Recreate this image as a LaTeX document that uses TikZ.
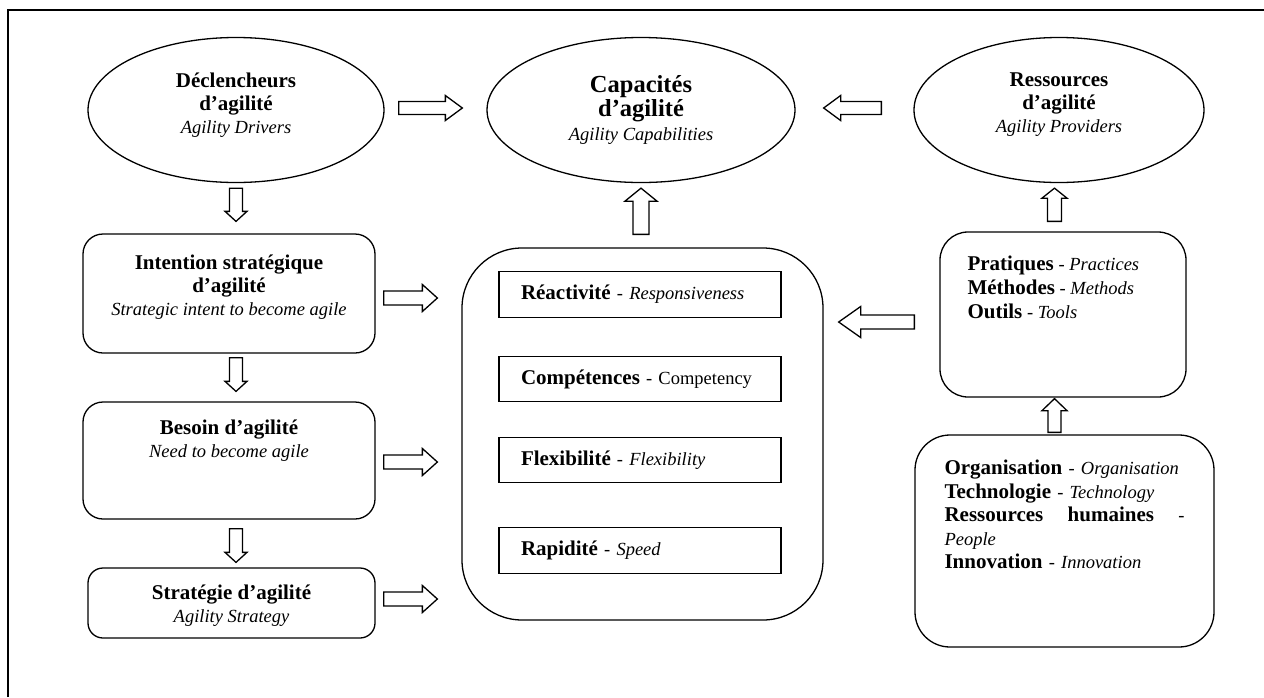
\documentclass[tikz,border=0pt]{standalone}
\usepackage{fontspec}
\setmainfont{Liberation Serif}
\usetikzlibrary{shapes.geometric, calc}
\setlength{\parindent}{0pt}

\newcommand{\fr}[1]{{\fontsize{21}{23}\selectfont\bfseries #1}}
\newcommand{\en}[1]{\textit{#1}}

\begin{document}
\begin{tikzpicture}[x=1pt, y=-1pt,
    every node/.style={font=\fontsize{18.5}{23}\selectfont},
    oval/.style={draw, ellipse, line width=1.3pt, inner sep=0pt, align=center},
    rbox/.style={draw, rounded corners=20pt, line width=1.3pt},
    cbox/.style={draw, line width=1.4pt, minimum width=282pt, minimum height=45.5pt,
        text width=238pt, inner xsep=22pt, inner ysep=0pt, align=left},
    txt/.style={inner sep=0pt, align=center},
    fat/.style args={#1/#2/#3}{fill=white, line width=1.3pt, to path={
        ($(\tikztostart)!#1!90:(\tikztotarget)$)
        -- ($(\tikztotarget)!#3!(\tikztostart)!#1!90:(\tikztotarget)$)
        -- ($(\tikztotarget)!#3!(\tikztostart)!#2!90:(\tikztotarget)$)
        -- (\tikztotarget)
        -- ($(\tikztotarget)!#3!(\tikztostart)!#2!-90:(\tikztotarget)$)
        -- ($(\tikztotarget)!#3!(\tikztostart)!#1!-90:(\tikztotarget)$)
        -- ($(\tikztostart)!#1!-90:(\tikztotarget)$) -- cycle}}
]
        \useasboundingbox (0,0) rectangle (1264,697);

        % Cadre
        \draw[line width=2pt] (8,697) -- (8,9.5) -- (1264,9.5);

        % Ellipses du haut
        \node[oval, minimum width=296pt, minimum height=145pt, text depth=14pt] (drv) at (236,110)
            {\fr{Déclencheurs}\\\fr{d’agilité}\\\en{Agility Drivers}};
        \node[oval, minimum width=308pt, minimum height=145pt, font=\fontsize{18.5}{24}\selectfont] (cap) at (641,110)
            {{\fontsize{24.5}{24}\selectfont\bfseries Capacités}\\{\fontsize{24.5}{24}\selectfont\bfseries d’agilité}\\\en{Agility Capabilities}};
        \node[oval, minimum width=290pt, minimum height=145pt, text depth=14pt] (prov) at (1059,110)
            {\fr{Ressources}\\\fr{d’agilité}\\\en{Agility Providers}};

        % Colonne de gauche
        \node[rbox, minimum width=292pt, minimum height=119pt] (intent) at (229,293.5) {};
        \node[txt, anchor=north] (intenttxt) at ([yshift=-21pt]intent.north)
            {\fr{Intention stratégique}\\\fr{d’agilité}\\\en{Strategic intent to become agile}};
        \node[rbox, minimum width=292pt, minimum height=117pt] (need) at (229,460.5) {};
        \node[txt, anchor=north] (needtxt) at ([yshift=-18pt]need.north)
            {\fr{Besoin d’agilité}\\\en{Need to become agile}};
        \node[rbox, rounded corners=15pt, minimum width=287pt, minimum height=70pt] (strat) at (231.5,603) {};
        \node[txt, anchor=north] (strattxt) at ([yshift=-17pt]strat.north)
            {\fr{Stratégie d’agilité}\\\en{Agility Strategy}};

        % Capacites
        \node[rbox, rounded corners=60pt, minimum width=361pt, minimum height=372pt] (capbox) at (642.5,434) {};
        \node[cbox] (resp) at (640,294.5) {\fr{Réactivité} - \en{Responsiveness}};
        \node[cbox] (comp) at (640,379) {\fr{Compétences} - Competency};
        \node[cbox] (flex) at (640,460) {\fr{Flexibilité} - \en{Flexibility}};
        \node[cbox] (speed) at (640,550.5) {\fr{Rapidité} - \en{Speed}};

        % Colonne de droite
        \node[rbox, rounded corners=28pt, minimum width=246pt, minimum height=165pt] (prac) at (1063,314.5) {};
        \node[txt, anchor=north west, align=left, font=\fontsize{18.5}{24}\selectfont] (practxt)
            at ([xshift=28pt,yshift=-24pt]prac.north west)
            {\fr{Pratiques} - \en{Practices}\\\fr{Méthodes} - \en{Methods}\\\fr{Outils} - \en{Tools}};
        \node[rbox, rounded corners=35pt, minimum width=299pt, minimum height=212pt] (org) at (1064.5,541) {};
        \node[txt, anchor=north west, text width=240pt, align=left, font=\fontsize{18.5}{23.5}\selectfont] (orgtxt)
            at ([xshift=30pt,yshift=-25.5pt]org.north west)
            {\fr{Organisation} - \en{Organisation}\\\fr{Technologie} - \en{Technology}\\
             \fr{Ressources}\hfill\fr{humaines}\hfill-\\\en{People}\\\fr{Innovation} - \en{Innovation}};

        % Fleches du haut
        \draw[fat=6.5pt/12.5pt/17pt] ([xshift=14pt,yshift=2pt]drv.east) to ([xshift=-24pt,yshift=2pt]cap.west);
        \draw[fat=6.5pt/12.5pt/17pt] ([xshift=-32pt,yshift=2pt]prov.west) to ([xshift=28pt,yshift=2pt]cap.east);

        % Fleches vers le bas
        \draw[fat=6.5pt/11pt/10pt] ([yshift=-5pt]drv.south) to ([xshift=7pt,yshift=12pt]intent.north);
        \draw[fat=6.5pt/11pt/10pt] ([xshift=7pt,yshift=-4pt]intent.south) to ([xshift=7pt,yshift=10pt]need.north);
        \draw[fat=6.5pt/11pt/10pt] ([xshift=7pt,yshift=-9pt]need.south) to ([xshift=4.5pt,yshift=5pt]strat.north);

        % Fleches vers les capacites
        \draw[fat=7pt/13.5pt/15pt] ([xshift=8pt,yshift=-4.5pt]intent.east) to ([xshift=-24pt,yshift=-4.5pt]intent.east -| capbox.west);
        \draw[fat=7pt/13.5pt/15pt] ([xshift=8pt,yshift=-1.5pt]need.east) to ([xshift=-24pt,yshift=-1.5pt]need.east -| capbox.west);
        \draw[fat=7pt/13.5pt/15pt] ([xshift=8pt,yshift=4pt]strat.east) to ([xshift=-24pt,yshift=4pt]strat.east -| capbox.west);
        \draw[fat=7pt/15.5pt/22pt] ([xshift=-25pt,yshift=-7.5pt]prac.west) to ([xshift=15pt,yshift=-7.5pt]prac.west -| capbox.east);

        % Fleches vers le haut
        \draw[fat=8pt/16pt/13pt] ([xshift=-1.5pt,yshift=13pt]capbox.north) to ([yshift=-5pt]cap.south);
        \draw[fat=7pt/12.5pt/10pt] ([xshift=-8.5pt,yshift=10pt]prac.north) to ([xshift=-4.5pt,yshift=-5pt]prov.south);
        \draw[fat=6.5pt/12.5pt/12pt] ([xshift=-10pt,yshift=2pt]org.north) to ([xshift=-8.5pt,yshift=-1pt]prac.south);
    \end{tikzpicture}
\end{document}
